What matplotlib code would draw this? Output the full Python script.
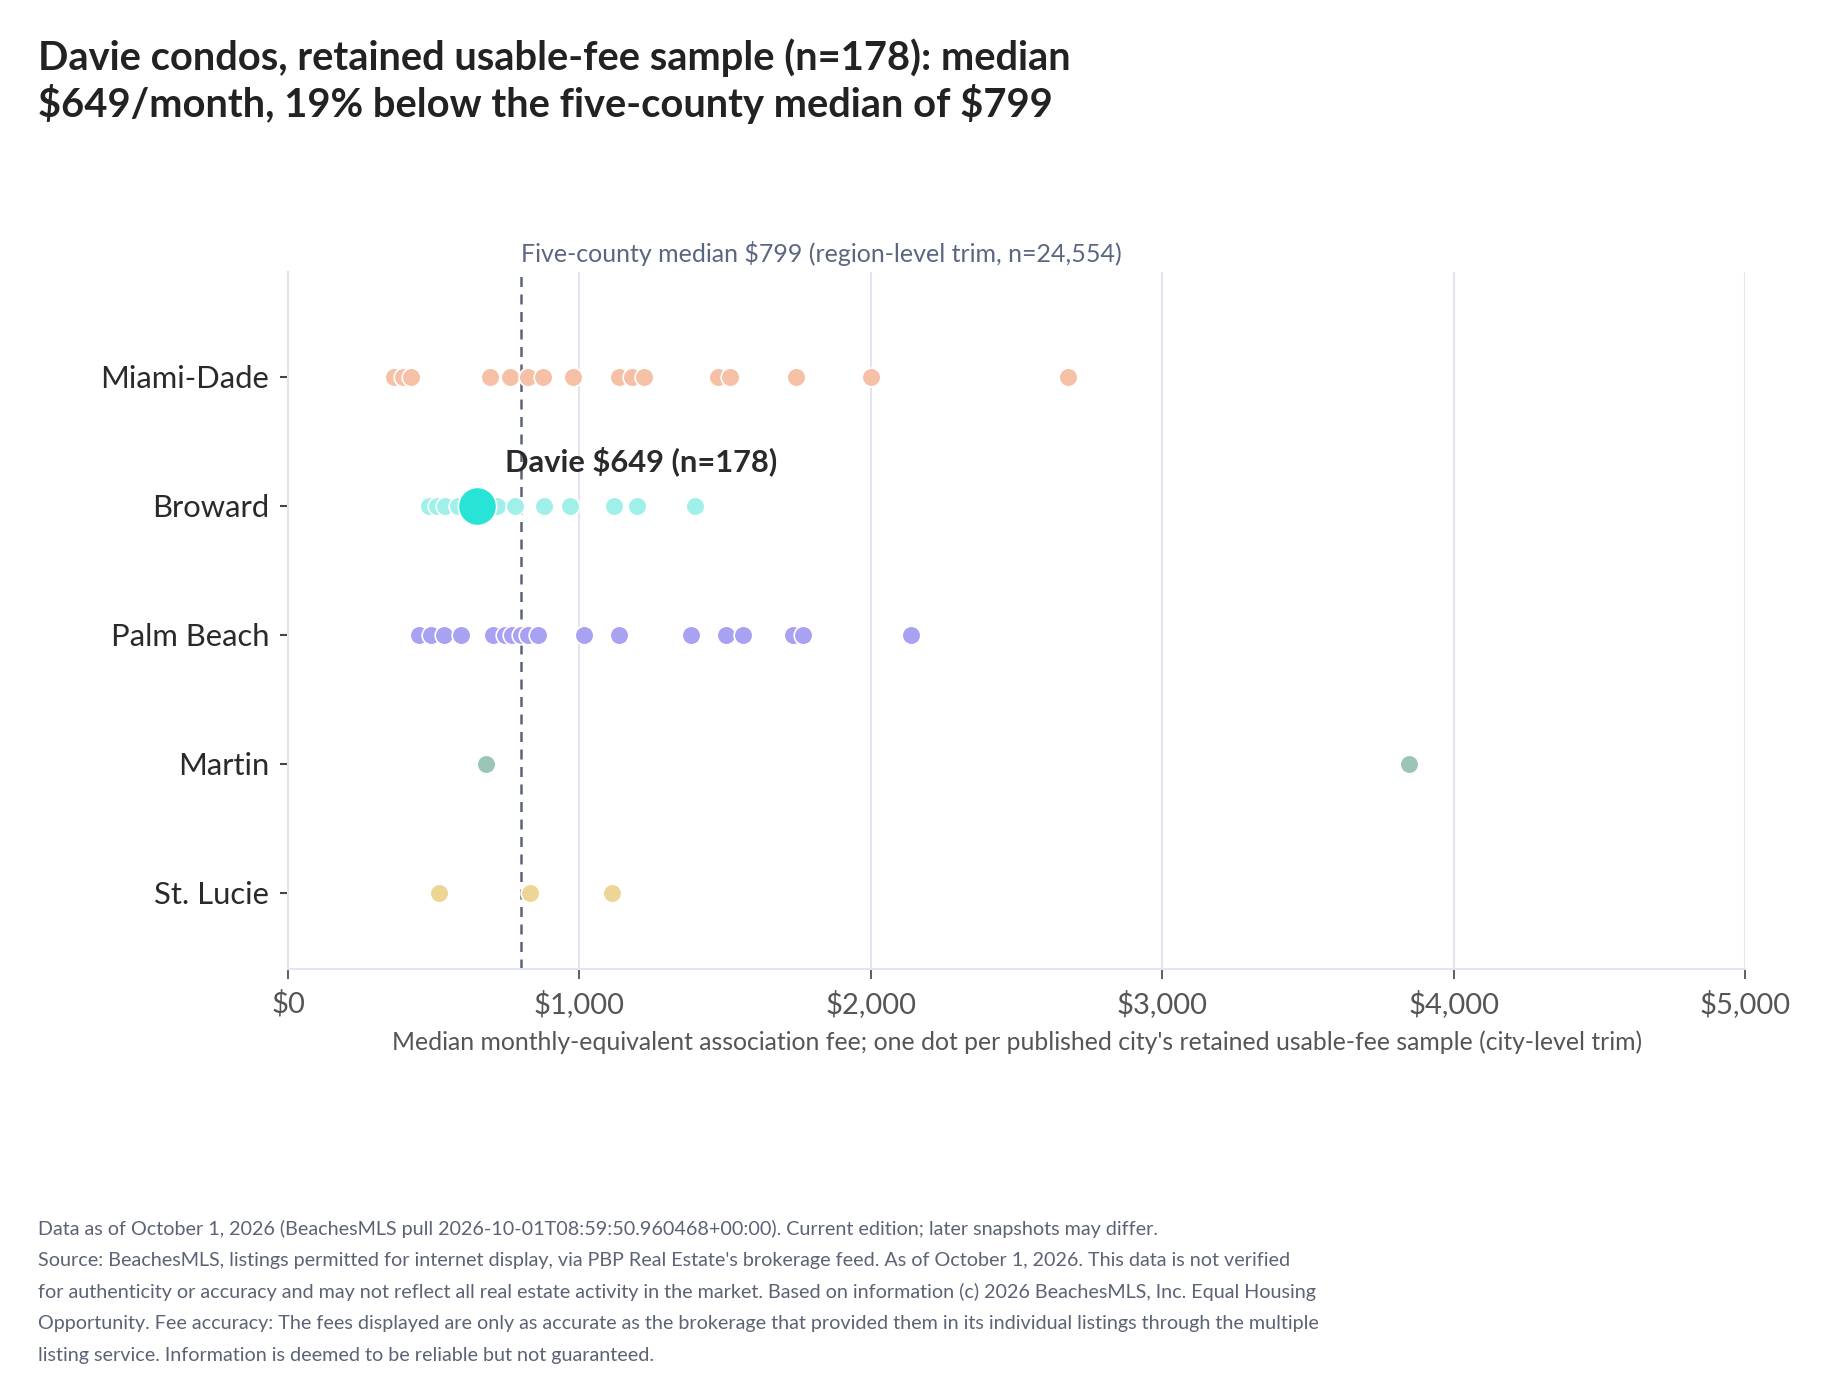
import matplotlib
matplotlib.use("Agg")
import matplotlib.pyplot as plt

plt.rcParams['font.family'] = ['Lato', 'DejaVu Sans']
plt.rcParams['text.parse_math'] = False

counties = ["Miami-Dade", "Broward", "Palm Beach", "Martin", "St. Lucie"]
miami_dade = [362, 396, 422, 692, 761, 824, 875, 977, 1135, 1180, 1220, 1474, 1515, 1742, 2002, 2675]
broward = [485, 512, 540, 583, 620, 700, 718, 779, 880, 969, 1120, 1199, 1398]
palm_beach = [448, 490, 536, 593, 705, 743, 769, 800, 823, 857, 1017, 1134, 1384, 1504, 1560, 1734, 1768, 2139]
martin = [680, 3845]
st_lucie = [519, 830, 1113]
series = [miami_dade, broward, palm_beach, martin, st_lucie]
colors = ["#F5C0A6", "#A0F0EA", "#A9A2F2", "#9BC5B6", "#EDD595"]

davie_value = 649
davie_county = "Broward"
region_median = 799
x_ticks = [0, 1000, 2000, 3000, 4000, 5000]
x_tick_labels = ["$0", "$1,000", "$2,000", "$3,000", "$4,000", "$5,000"]

title = ("Davie condos, retained usable-fee sample (n=178): median\n"
         "$649/month, 19% below the five-county median of $799")
median_label = "Five-county median $799 (region-level trim, n=24,554)"
davie_label = "Davie $649 (n=178)"
x_title = ("Median monthly-equivalent association fee; one dot per published city's "
           "retained usable-fee sample (city-level trim)")
footer = [
    "Data as of October 1, 2026 (BeachesMLS pull 2026-10-01T08:59:50.960468+00:00). Current edition; later snapshots may differ.",
    "Source: BeachesMLS, listings permitted for internet display, via PBP Real Estate's brokerage feed. As of October 1, 2026. This data is not verified",
    "for authenticity or accuracy and may not reflect all real estate activity in the market. Based on information (c) 2026 BeachesMLS, Inc. Equal Housing",
    "Opportunity. Fee accuracy: The fees displayed are only as accurate as the brokerage that provided them in its individual listings through the multiple",
    "listing service. Information is deemed to be reliable but not guaranteed.",
]

fig = plt.figure(figsize=(18.3, 13.99), dpi=100)
ax = fig.add_axes([0.1574, 0.3074, 0.9536 - 0.1574, 0.8056 - 0.3074])

grid_c = "#E4E4F0"
for i, (vals, c) in enumerate(zip(series, colors)):
    ax.scatter(vals, [i] * len(vals), s=180, color=c, edgecolor="white", linewidth=1.2, zorder=3)

bi = counties.index(davie_county)
ax.scatter([davie_value], [bi], s=760, color="#28E4D6", edgecolor="white", linewidth=1.2, zorder=4)

ax.axvline(region_median, color="#5A6478", linestyle=(0, (4, 3)), linewidth=1.8, zorder=2)

ax.set_xlim(0, 5000)
ax.set_ylim(4.59, -0.81)
ax.set_yticks(range(len(counties)))
ax.set_yticklabels(counties)
ax.set_xticks(x_ticks)
ax.set_xticklabels(x_tick_labels)

ax.grid(axis="x", color=grid_c, linewidth=1.5, zorder=0)
ax.set_axisbelow(True)
for s in ["top", "right"]:
    ax.spines[s].set_visible(False)
ax.spines["left"].set_color(grid_c)
ax.spines["left"].set_linewidth(1.5)
ax.spines["bottom"].set_color(grid_c)
ax.spines["bottom"].set_linewidth(1.5)

ax.tick_params(axis="y", length=6, width=1.5, color="#444444", pad=7.5, labelsize=22.3, labelcolor="#2A2A2A")
ax.tick_params(axis="x", length=7, width=1.2, color="#444444", pad=8, labelsize=21, labelcolor="#555555")

ax.set_xlabel(x_title, fontsize=17.8, color="#555555", labelpad=9)

ax.text(region_median, -0.95, median_label, ha="left", va="center", fontsize=18, color="#5B6780",
        clip_on=False)
ax.text(745, 0.66, davie_label, ha="left", va="center", fontsize=22.2, fontweight="bold", color="#2A2A2A")

fig.text(0.0205, 1 - 38.5 / 1399, title, ha="left", va="top", fontsize=28.7, fontweight="bold",
         color="#222222", linespacing=1.2)

for k, line in enumerate(footer):
    fig.text(0.0205, 1 - (1229 + k * 31.5) / 1399, line, ha="left", va="center", fontsize=14.25,
             color="#5B6375")

fig.savefig("out.png", dpi=100)
